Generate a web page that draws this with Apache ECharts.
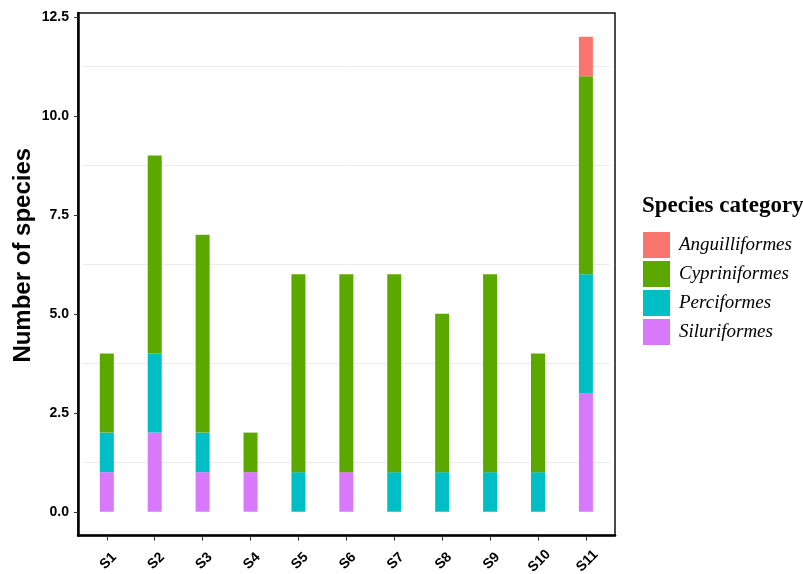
<!DOCTYPE html>
<html>
<head>
<meta charset="utf-8">
<script src="https://cdn.jsdelivr.net/npm/echarts@6/dist/echarts.min.js"></script>
<style>html,body{margin:0;padding:0;background:#fff}#c{width:803px;height:574px}</style>
</head>
<body>
<div id="c"></div>
<script>
const categories = ['S1','S2','S3','S4','S5','S6','S7','S8','S9','S10','S11'];
const siluriformes   = [1,2,1,1,0,1,0,0,0,0,3];
const perciformes    = [1,2,1,0,1,0,1,1,1,1,3];
const cypriniformes  = [2,5,5,1,5,5,5,4,5,3,5];
const anguilliformes = [0,0,0,0,0,0,0,0,0,0,1];
const yTicks = [0, 2.5, 5, 7.5, 10, 12.5];
const yMinorGrid = [1.25, 3.75, 6.25, 8.75, 11.25];
const legendOrder = ['Anguilliformes','Cypriniformes','Perciformes','Siluriformes'];
const colors = {Anguilliformes:'#F8766D', Cypriniformes:'#5BA800', Perciformes:'#00BFC4', Siluriformes:'#D878FB'};

const chart = echarts.init(document.getElementById('c'));
function mk(name, data){
  return {name, type:'bar', stack:'t', xAxisIndex:1, yAxisIndex:1,
    data: data.map(v => v === 0 ? null : v), barWidth:14,
    itemStyle:{color:colors[name]}, emphasis:{disabled:true}};
}
chart.setOption({
  animation:false,
  title:{text:'Species category', left:637, top:190,
    textStyle:{fontFamily:'Liberation Serif', fontWeight:'bold', fontSize:23, color:'#000'}},
  legend:{data:legendOrder, orient:'vertical', left:638, top:227, itemWidth:27, itemHeight:26, itemGap:3,
    icon:'rect', textStyle:{fontFamily:'Liberation Serif', fontStyle:'italic', fontSize:19, color:'#000', padding:[0,0,0,4]}},
  grid:[
    {left:78, right:188, top:13, bottom:38.5, show:true, borderColor:'#111', borderWidth:1.5, containLabel:false, outerBoundsMode:'none'},
    {left:82.85, right:193.15, top:13, bottom:38.5, containLabel:false, outerBoundsMode:'none'}
  ],
  xAxis:[
    {type:'value', gridIndex:0, min:0, max:1, axisLine:{show:true, onZero:false, lineStyle:{color:'#000', width:2.5}},
     axisTick:{show:false}, axisLabel:{show:false}, splitLine:{show:false}},
    {type:'category', gridIndex:1, data:categories,
     axisLine:{show:false, onZero:false},
     axisTick:{show:true, alignWithLabel:true, length:5, lineStyle:{color:'#333', width:1}},
     axisLabel:{rotate:45, align:'center', verticalAlign:'middle', color:'#000', fontFamily:'Liberation Sans', fontWeight:'bold', fontSize:14, margin:27, padding:[0,0,0,4]}}
  ],
  yAxis:[
    {type:'value', gridIndex:0, min:-0.6, max:12.6,
     name:'Number of species', nameLocation:'middle', nameGap:43, nameMoveOverlap:false,
     nameTextStyle:{fontFamily:'Liberation Sans', fontWeight:'bold', fontSize:24, color:'#000', padding:[0,0,0,38]},
     axisLine:{show:true, lineStyle:{color:'#000', width:2.5}},
     axisTick:{show:true, customValues:yTicks, length:4, lineStyle:{color:'#333'}},
     axisLabel:{customValues:yTicks, color:'#000', fontFamily:'Liberation Sans', fontWeight:'bold', fontSize:14, margin:9,
       formatter:v => v.toFixed(1)},
     splitLine:{show:false}},
    {type:'value', gridIndex:1, min:-0.6, max:12.6,
     axisLine:{show:false}, axisLabel:{show:false},
     axisTick:{show:false, customValues:yMinorGrid},
     splitLine:{show:true, lineStyle:{color:'#ebebeb', width:1}}}
  ],
  series:[mk('Siluriformes', siluriformes), mk('Perciformes', perciformes), mk('Cypriniformes', cypriniformes), mk('Anguilliformes', anguilliformes)]
});
</script>
</body>
</html>
